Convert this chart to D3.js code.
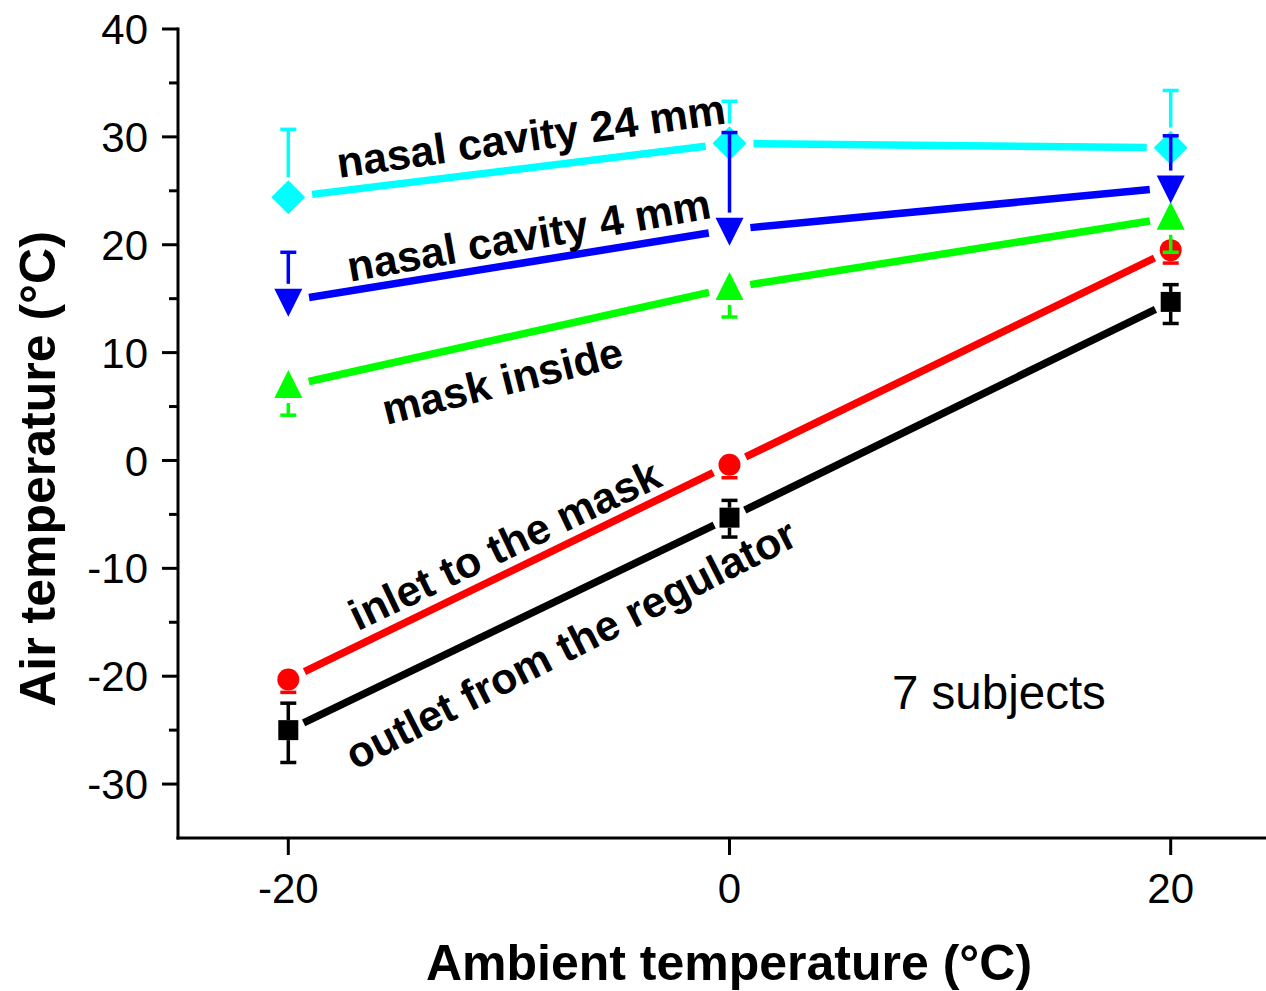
<!DOCTYPE html>
<html>
<head>
<meta charset="utf-8">
<script src="https://cdnjs.cloudflare.com/ajax/libs/d3/7.8.5/d3.min.js"></script>
<style>
  body { margin: 0; background: #fff; }
  text { font-family: "Liberation Sans", Arial, sans-serif; }
</style>
</head>
<body>
<div id="chart"></div>
<script>
// The svg
var width = 1266;
var height = 991;

var svg = d3.select("#chart")
    .append("svg")
    .attr("width", width)
    .attr("height", height);

// ambient temperatures (x)
var ambient = [-20, 0, 20];

// mean air temperatures per measuring point
var outletMean = [-25.0, -5.3, 14.7];
var inletMean = [-20.3, -0.4, 19.5];
var maskMean = [6.9, 16.0, 22.5];
var nasal4Mean = [14.8, 21.4, 25.3];
var nasal24Mean = [24.4, 29.4, 29.0];

// error bars (upper / lower)
var outletUp = [2.5, 1.6, 1.6];
var outletDown = [3.0, 1.8, 2.0];
var inletDown = [1.2, 1.2, 1.2];
var maskDown = [2.7, 2.7, 3.2];
var nasal4Up = [4.5, 9.0, 4.8];
var nasal24Up = [6.3, 3.9, 5.3];

var yTicks = [-30, -20, -10, 0, 10, 20, 30, 40];
var yMinor = [-25, -15, -5, 5, 15, 25, 35];
var xTicks = [-20, 0, 20];

// labels written along the lines
var labelText = ["nasal cavity 24 mm", "nasal cavity 4 mm", "mask inside", "inlet to the mask", "outlet from the regulator"];
var labelAt = [[-9.0, 30.1], [-9.1, 20.9], [-10.3, 7.4], [-10.2, -7.8], [-7.2, -17.0]];
var labelAngle = [-8, -10, -14, -25.5, -27];

// scales
var x = d3.scaleLinear().domain([-25, 25]).range([178, 1281]);
var y = d3.scaleLinear().domain([-35, 40]).range([838, 29]);

// series: order is drawing order
var series = [
    { mean: outletMean, up: outletUp, down: outletDown, color: "#000000", shape: "square", half: 10 },
    { mean: inletMean, up: null, down: inletDown, color: "#ff0000", shape: "circle", half: 11 },
    { mean: maskMean, up: null, down: maskDown, color: "#00ff00", shape: "up", half: 14 },
    { mean: nasal24Mean, up: nasal24Up, down: null, color: "#00ffff", shape: "diamond", half: 17 },
    { mean: nasal4Mean, up: nasal4Up, down: null, color: "#0000ff", shape: "down", half: 14 }
];

function markerPath(shape, h) {
    if (shape == "square") return "M" + (-h) + "," + (-h) + "H" + h + "V" + h + "H" + (-h) + "Z";
    if (shape == "circle") return "M" + (-h) + ",0A" + h + "," + h + " 0 1,0 " + h + ",0A" + h + "," + h + " 0 1,0 " + (-h) + ",0Z";
    if (shape == "up") return "M0," + (-h - 2) + "L" + h + "," + (h - 2) + "H" + (-h) + "Z";
    if (shape == "down") return "M0," + (h + 2) + "L" + h + "," + (-h + 2) + "H" + (-h) + "Z";
    return "M0," + (-h) + "L" + h + ",0L0," + h + "L" + (-h) + ",0Z";
}

// axes
var yAxis = svg.append("g").attr("transform", "translate(178,0)");
yAxis.append("line").attr("x1", 0).attr("x2", 0).attr("y1", y(40) - 1.5).attr("y2", y(-35) + 1.5)
    .attr("stroke", "#000").attr("stroke-width", 3);
yAxis.selectAll(".major").data(yTicks).enter().append("line")
    .attr("x1", -16).attr("x2", 0)
    .attr("y1", function (d) { return y(d) }).attr("y2", function (d) { return y(d) })
    .attr("stroke", "#000").attr("stroke-width", 3);
yAxis.selectAll(".minor").data(yMinor).enter().append("line")
    .attr("x1", -9).attr("x2", 0)
    .attr("y1", function (d) { return y(d) }).attr("y2", function (d) { return y(d) })
    .attr("stroke", "#000").attr("stroke-width", 3);
yAxis.selectAll(".lab").data(yTicks).enter().append("text")
    .attr("x", -30).attr("y", function (d) { return y(d) }).attr("dy", "0.36em")
    .attr("text-anchor", "end").style("font-size", "42px")
    .text(function (d) { return d });

var xAxis = svg.append("g").attr("transform", "translate(0,838)");
xAxis.append("line").attr("x1", 176.5).attr("x2", width).attr("y1", 0).attr("y2", 0)
    .attr("stroke", "#000").attr("stroke-width", 3);
xAxis.selectAll(".major").data(xTicks).enter().append("line")
    .attr("x1", function (d) { return x(d) }).attr("x2", function (d) { return x(d) })
    .attr("y1", 0).attr("y2", 17)
    .attr("stroke", "#000").attr("stroke-width", 3);
xAxis.selectAll(".lab").data(xTicks).enter().append("text")
    .attr("x", function (d) { return x(d) }).attr("y", 65)
    .attr("text-anchor", "middle").style("font-size", "42px")
    .text(function (d) { return d });

// axis titles
svg.append("text")
    .attr("x", 729).attr("y", 980)
    .attr("text-anchor", "middle")
    .style("font-size", "50px").style("font-weight", "bold")
    .text("Ambient temperature (°C)");

svg.append("text")
    .attr("transform", "translate(55,469) rotate(-90)")
    .attr("text-anchor", "middle")
    .style("font-size", "50px").style("font-weight", "bold")
    .text("Air temperature (°C)");

// draw every series: line segments with gaps, error bars, markers
series.forEach(function (s) {
    var g = svg.append("g");
    var pts = ambient.map(function (a, i) { return [x(a), y(s.mean[i])] });
    var gap = s.half + 7;

    for (var i = 0; i < pts.length - 1; i++) {
        var p0 = pts[i], p1 = pts[i + 1];
        var dx = p1[0] - p0[0], dy = p1[1] - p0[1];
        var len = Math.sqrt(dx * dx + dy * dy);
        var ux = dx / len, uy = dy / len;
        g.append("line")
            .attr("x1", p0[0] + ux * gap).attr("y1", p0[1] + uy * gap)
            .attr("x2", p1[0] - ux * gap).attr("y2", p1[1] - uy * gap)
            .attr("stroke", s.color).attr("stroke-width", 7.5);
    }

    ambient.forEach(function (a, i) {
        var cx = x(a), cy = y(s.mean[i]);
        var edge = s.half + (s.shape == "square" ? 0 : 3);
        if (s.up) {
            var top = y(s.mean[i] + s.up[i]);
            g.append("line").attr("x1", cx).attr("x2", cx).attr("y1", top).attr("y2", cy - edge)
                .attr("stroke", s.color).attr("stroke-width", 3.5);
            g.append("line").attr("x1", cx - 8).attr("x2", cx + 8).attr("y1", top).attr("y2", top)
                .attr("stroke", s.color).attr("stroke-width", 3.5);
        }
        if (s.down) {
            var bot = y(s.mean[i] - s.down[i]);
            g.append("line").attr("x1", cx).attr("x2", cx).attr("y1", cy + edge).attr("y2", bot)
                .attr("stroke", s.color).attr("stroke-width", 3.5);
            g.append("line").attr("x1", cx - 8).attr("x2", cx + 8).attr("y1", bot).attr("y2", bot)
                .attr("stroke", s.color).attr("stroke-width", 3.5);
        }
        g.append("path")
            .attr("d", markerPath(s.shape, s.half))
            .attr("transform", "translate(" + cx + "," + cy + ")")
            .attr("fill", s.color);
    });
});

// labels along the lines
labelText.forEach(function (t, i) {
    svg.append("text")
        .attr("transform", "translate(" + x(labelAt[i][0]) + "," + y(labelAt[i][1]) + ") rotate(" + labelAngle[i] + ")")
        .attr("text-anchor", "middle").attr("dy", "0.35em")
        .style("font-size", "43px").style("font-weight", "bold")
        .text(t);
});

svg.append("text")
    .attr("x", 892).attr("y", 709)
    .style("font-size", "47.5px")
    .text("7 subjects");
</script>
</body>
</html>
